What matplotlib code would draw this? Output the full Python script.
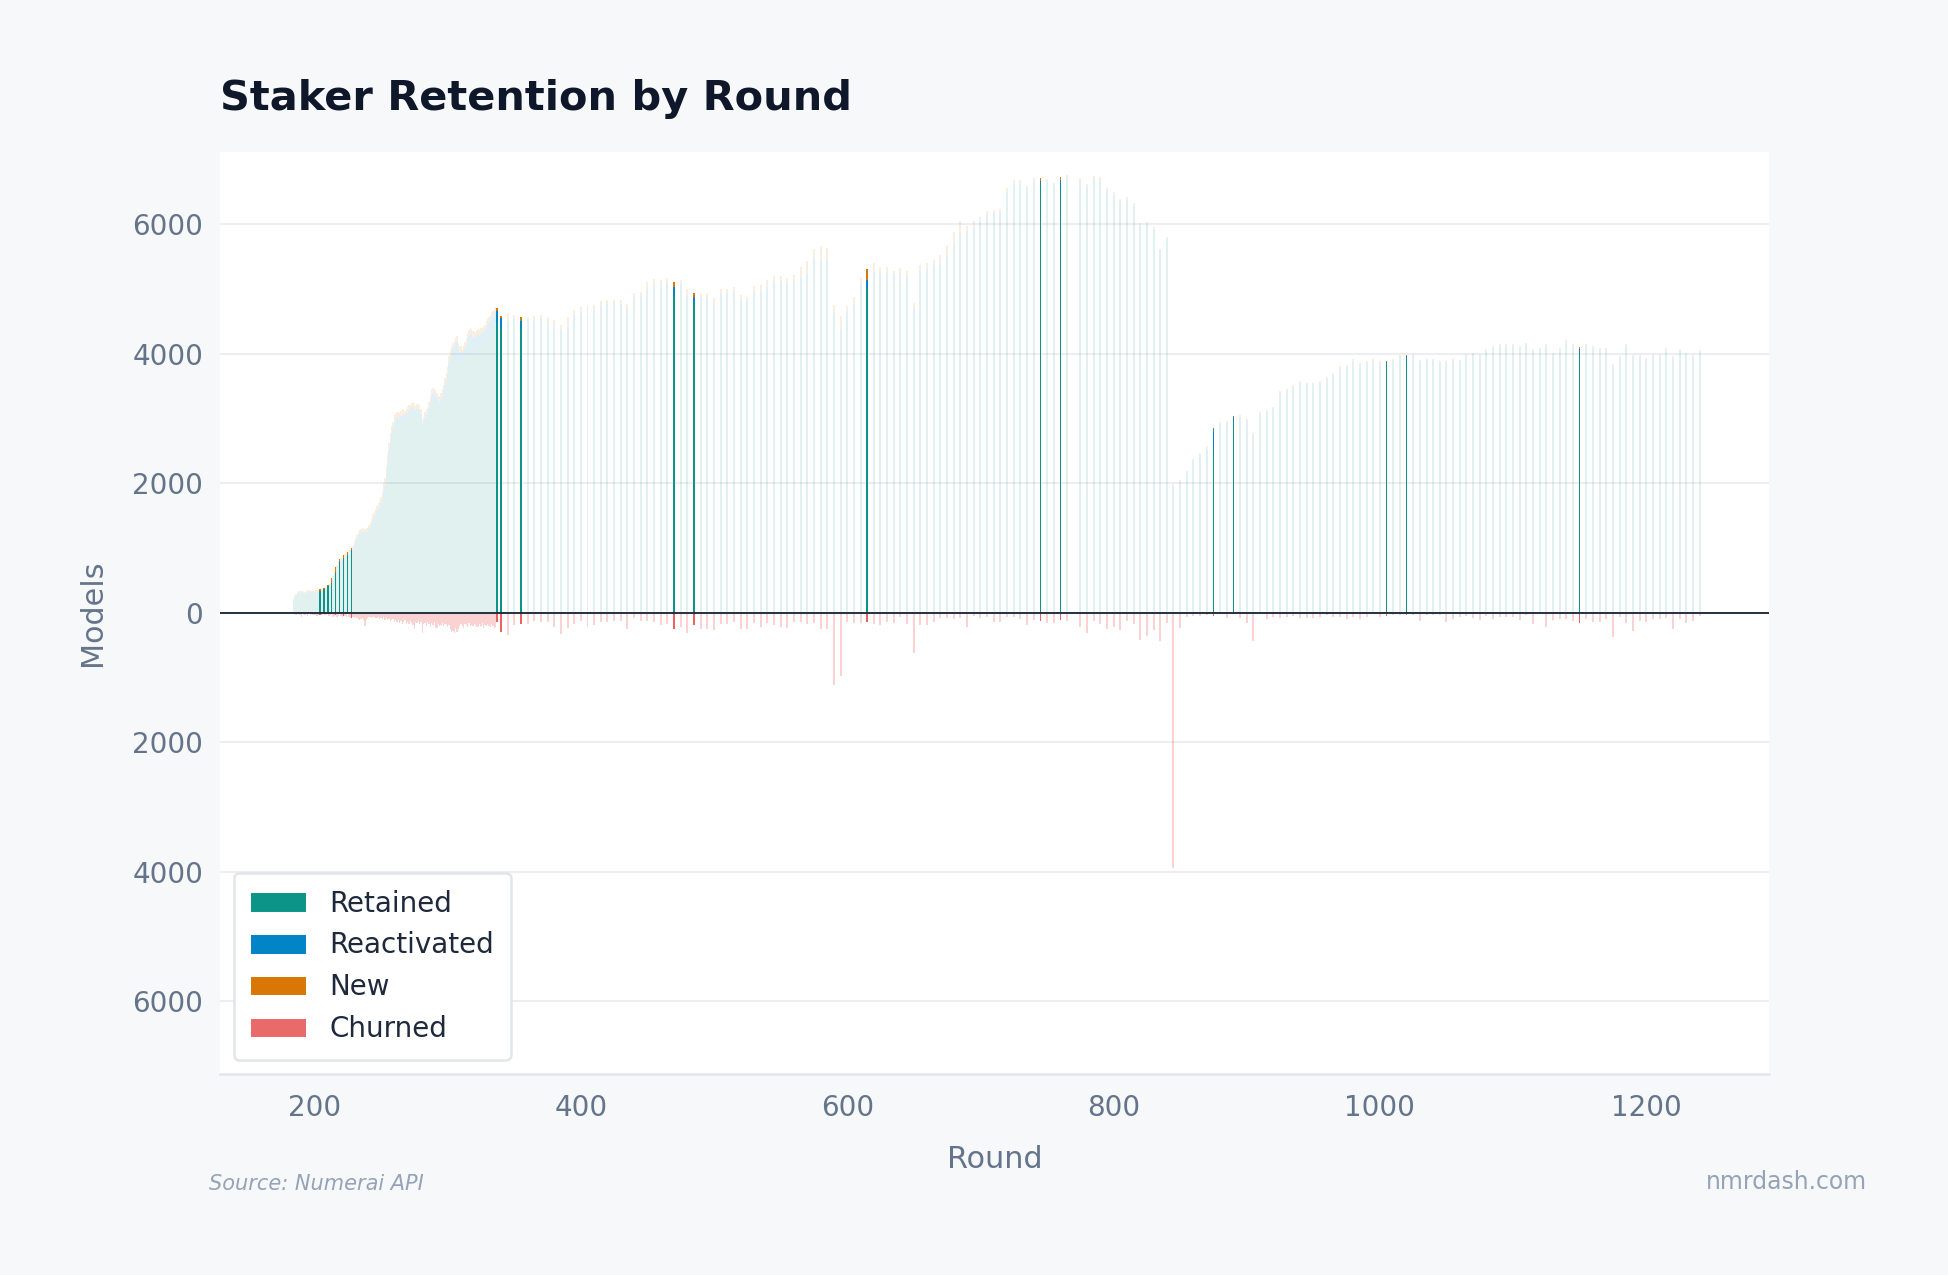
import matplotlib
matplotlib.use("Agg")
import matplotlib.pyplot as plt
from matplotlib.patches import Patch
from matplotlib.ticker import FuncFormatter, MultipleLocator
import numpy as np

# ---------------- data ----------------
dense_rounds = list(range(184, 338))
sparse_rounds = [r for r in range(340, 1245, 5) if r != 770]
rounds = dense_rounds + sparse_rounds

highlight_rounds = [204, 207, 210, 213, 216, 219, 222, 225, 228, 337, 340, 355,
                    470, 485, 615, 745, 760, 875, 890, 1005, 1020, 1150]

# stack top (retained + reactivated + new) per round
total_dense = [
    205, 250, 290, 320, 335, 330, 345, 320, 330, 325, 330, 345, 345, 330, 335, 340, 340, 345, 355, 365,
    369, 375, 380, 385, 395, 410, 425, 445, 480, 528, 560, 640, 708, 730, 790, 830, 850, 880, 897, 900,
    920, 938, 960, 985, 995,
    1030, 1110, 1160, 1200, 1240, 1270, 1290, 1300, 1300, 1290, 1310, 1305,
    1350, 1400, 1450, 1520, 1560, 1600, 1650, 1690, 1720, 1780, 1850, 2000, 2080, 2250, 2450, 2620, 2780, 2880, 2950, 3050,
    3070, 3100, 3080, 3100, 3120, 3140, 3150, 3120, 3150, 3180, 3210, 3200, 3240, 3260, 3200, 3190, 3230, 3220, 3200, 3150,
    2980, 3020, 3100, 3140, 3180, 3260, 3340, 3450, 3470, 3440, 3460, 3400, 3350, 3330, 3400, 3460, 3520, 3620, 3700, 3800,
    3960, 4050, 4100, 4160, 4200, 4250, 4270, 4160, 4110, 4120, 4080, 4120, 4180, 4250, 4320, 4370, 4400, 4380, 4350, 4340,
    4330, 4370, 4390, 4360, 4390, 4400, 4420, 4440, 4500, 4540, 4570, 4600, 4640, 4660, 4700, 4720, 4707,
]
total_sparse = [
    4590, 4631, 4600, 4564, 4574, 4590, 4605, 4574, 4528, 4436,
    4574, 4682, 4728, 4743, 4759, 4820, 4836, 4836, 4836, 4769,
    4933, 4959, 5102, 5154, 5143, 5169, 5102, 5143, 5000, 4933,
    4933, 4933, 4856, 5000, 5000, 5036, 4910,
    4882, 5051, 5067, 5143, 5205, 5205, 5164, 5220, 5333, 5436,
    5615, 5667, 5631, 4759, 4590, 4743, 4882, 5190, 5308, 5395,
    5333, 5333, 5282, 5323, 5272, 4785, 5374, 5395, 5451, 5528,
    5682, 5882, 6051, 5974, 6051, 6110,
    6199, 6221, 6235, 6566, 6676, 6676, 6588, 6713, 6713, 6691, 6640, 6735, 6765,
    6713, 6625, 6750, 6735, 6566, 6493, 6382, 6419, 6324, 6015, 6029, 5956, 5625, 5809,
    1985, 2044, 2191, 2375, 2471, 2574, 2856, 2949, 2964, 3036,
    3051, 2990, 2769, 3102, 3128, 3179, 3420, 3461, 3513, 3574,
    3554, 3554, 3574, 3641, 3703, 3805, 3820, 3913, 3856, 3887,
    3913, 3887, 3887, 3913, 3974, 3984, 4000, 3897, 3923, 3923,
    3882, 3882, 3923, 3910, 3990, 4015, 3990, 4067, 4113, 4143,
    4143, 4154, 4113, 4169, 4067, 4092, 4154, 4015, 4092, 4205,
    4154, 4103, 4154, 4113, 4092, 4092, 3836, 3959, 4143, 3974,
    3974, 3938, 3990, 3990, 4092, 3959, 4077, 4015, 3974, 4051,
]

new_dense = [
    20, 25, 30, 20, 25, 30, 20, 25, 20, 30, 25, 20, 30, 25, 20, 25, 30, 25, 35, 30,
    36, 30, 25, 15, 30, 40, 15, 45, 50, 66, 60, 80, 103, 70, 60, 53, 60, 55, 56, 50, 45, 41, 50, 40, 31,
    50, 60, 55, 50, 45, 60, 50, 45, 55, 50, 60, 50,
    60, 70, 65, 80, 75, 90, 85, 80, 100, 90, 110, 100, 120, 130, 140, 120, 130, 110, 100, 90,
    80, 90, 85, 80, 75, 90, 80, 70, 85, 90, 80, 75, 85, 80, 70, 75, 80, 70, 75, 80,
    70, 80, 90, 85, 95, 100, 90, 80, 85, 75, 80, 70, 75, 90, 100, 110, 120, 100, 110, 120,
    110, 100, 90, 85, 95, 100, 90, 80, 85, 90, 80, 85, 90, 100, 95, 90, 85, 80, 90, 85,
    80, 85, 90, 80, 85, 90, 95, 80, 85, 90, 80, 75, 70, 80, 75, 70, 40,
]
new_sparse = [
    36, 144, 60, 62, 70, 80, 60, 70, 90, 77,
    154, 90, 80, 70, 80, 90, 70, 60, 70, 80,
    72, 90, 118, 100, 92, 80, 77, 67, 110, 51,
    60, 80, 90, 77, 70, 80, 90,
    70, 100, 120, 110, 120, 100, 90, 80, 150, 205,
    154, 230, 185, 144, 230, 100, 130, 120, 170, 110,
    80, 90, 60, 70, 90, 80, 100, 90, 100, 120,
    170, 190, 180, 100, 90, 60,
    50, 45, 60, 70, 55, 50, 45, 60, 51, 50, 45, 59, 55,
    50, 45, 40, 50, 45, 40, 35, 40, 35, 40, 30, 35, 30, 40,
    30, 35, 40, 35, 30, 40, 25, 30, 25, 21,
    30, 25, 35, 30, 25, 30, 35, 30, 25, 30,
    25, 30, 25, 30, 35, 40, 30, 25, 30, 25,
    20, 25, 15, 20, 25, 25, 20, 25, 20, 25,
    20, 25, 20, 25, 30, 25, 20, 25, 30, 25,
    20, 25, 20, 25, 20, 25, 30, 25, 20, 30,
    25, 26, 25, 20, 25, 20, 25, 30, 25, 20,
    25, 30, 25, 20, 25, 30, 25, 20, 25, 30,
]

reactivated_dense = [
    10, 12, 15, 10, 12, 15, 10, 12, 10, 15, 12, 10, 15, 12, 10, 12, 15, 12, 15, 10,
    0, 10, 12, 0, 10, 15, 0, 15, 20, 0, 20, 15, 15, 20, 25, 36, 25, 20, 0, 25, 20, 0, 30, 25, 41,
    30, 35, 40, 30, 35, 40, 35, 30, 40, 35, 30, 35,
    40, 45, 40, 50, 45, 55, 50, 45, 60, 55, 60, 65, 70, 75, 80, 75, 70, 80, 75, 70,
    80, 85, 80, 90, 85, 80, 90, 85, 80, 90, 95, 90, 85, 95, 90, 85, 90, 95, 90, 85,
    90, 95, 100, 95, 100, 105, 100, 110, 105, 100, 110, 105, 100, 110, 115, 120, 115, 120, 125, 130,
    130, 135, 140, 135, 140, 145, 140, 135, 130, 140, 135, 140, 145, 150, 145, 150, 155, 150, 155, 160,
    155, 160, 165, 160, 165, 170, 165, 170, 175, 170, 175, 180, 175, 180, 185, 190, 195,
]
reactivated_sparse = [
    169, 120, 110, 102, 115, 120, 110, 105, 120, 110,
    130, 120, 125, 115, 120, 130, 125, 120, 115, 125,
    130, 125, 135, 130, 125, 130, 128, 120, 125, 87,
    110, 115, 120, 110, 105, 115, 120,
    120, 125, 130, 120, 125, 130, 120, 125, 130, 135,
    130, 125, 130, 120, 110, 125, 130, 120, 123, 125,
    130, 120, 125, 115, 120, 110, 125, 130, 120, 125,
    130, 135, 125, 120, 115, 110,
    100, 95, 90, 85, 80, 75, 80, 70, 59, 75, 80, 147, 70,
    75, 80, 70, 75, 80, 85, 80, 75, 80, 90, 85, 80, 90, 85,
    150, 180, 200, 220, 250, 280, 318, 120, 100, 77,
    90, 85, 80, 75, 70, 75, 70, 65, 70, 65,
    60, 65, 60, 65, 60, 55, 60, 55, 60, 55,
    50, 55, 62, 50, 45, 36, 45, 50, 45, 50,
    45, 50, 45, 50, 55, 50, 45, 50, 55, 50,
    45, 50, 55, 50, 45, 50, 55, 60, 55, 60,
    65, 67, 60, 55, 60, 55, 50, 55, 60, 55,
    50, 55, 50, 55, 60, 55, 50, 55, 50, 55,
]

churned_dense = [
    20, 25, 30, 15, 20, 35, 60, 25, 20, 30, 25, 45, 20, 30, 25, 40, 35, 30, 45, 40,
    41, 30, 35, 15, 40, 30, 15, 50, 35, 15, 60, 45, 41, 70, 50, 26, 55, 60, 51, 45, 70, 26, 60, 80, 77,
    70, 90, 60, 80, 100, 110, 95, 85, 120, 205, 110, 90,
    70, 60, 80, 75, 65, 90, 80, 70, 100, 85, 95, 75, 110, 90, 120, 100, 130, 115, 95, 140,
    120, 150, 110, 160, 130, 180, 140, 120, 165, 150, 170, 135, 155, 190, 256, 145, 160, 130, 175, 150,
    308, 180, 160, 200, 140, 175, 220, 160, 190, 150, 230, 240, 170, 200, 185, 160, 210, 175, 195, 220,
    190, 250, 300, 280, 310, 240, 300, 260, 200, 180, 210, 230, 170, 190, 220, 160, 200, 185, 210, 175,
    190, 220, 200, 180, 210, 160, 230, 190, 200, 175, 210, 220, 180, 200, 230, 215, 144,
]
churned_sparse = [
    292, 344, 190, 180, 170, 128, 138, 144, 215, 323,
    231, 170, 128, 215, 195, 138, 138, 128, 128, 246,
    77, 128, 128, 138, 190, 170, 256, 215, 308, 195,
    246, 246, 272, 170, 180, 144, 256,
    256, 154, 215, 154, 190, 215, 231, 138, 138, 180,
    154, 256, 256, 1118, 985, 138, 164, 164, 144, 169,
    195, 138, 164, 62, 180, 626, 190, 195, 138, 87,
    87, 103, 77, 215, 51, 88,
    74, 140, 140, 74, 74, 103, 184, 110, 125, 154, 154, 110, 125,
    221, 309, 125, 169, 257, 221, 272, 125, 176, 419, 368, 272, 434, 154,
    3950, 235, 74, 51, 51, 29, 51, 10, 77, 26,
    77, 154, 436, 26, 92, 62, 77, 62, 51, 77,
    77, 77, 62, 41, 62, 62, 92, 62, 103, 62,
    26, 62, 51, 41, 31, 31, 31, 128, 41, 31,
    31, 144, 103, 62, 51, 77, 113, 51, 92, 62,
    62, 62, 113, 41, 169, 26, 215, 113, 92, 92,
    128, 154, 92, 144, 144, 92, 369, 62, 154, 282,
    128, 144, 103, 103, 77, 246, 92, 154, 128, 51,
]

total = np.array(total_dense + total_sparse, dtype=float)
new = np.array(new_dense + new_sparse, dtype=float)
reactivated = np.array(reactivated_dense + reactivated_sparse, dtype=float)
churned = np.array(churned_dense + churned_sparse, dtype=float)
retained = total - new - reactivated
x = np.array(rounds, dtype=float)

series_labels = ["Retained", "Reactivated", "New", "Churned"]
c_ret, c_rea, c_new, c_chu = "#0d9488", "#0284c7", "#d97706", "#ef4444"

# ---------------- figure ----------------
plt.rcParams['font.family'] = ['DejaVu Sans']
fig = plt.figure(figsize=(1948 / 150, 1275 / 150), dpi=150, facecolor="#f7f8fa")
ax = fig.add_axes([0.1129, 0.158, 0.908 - 0.1129, 0.881 - 0.158])
ax.set_facecolor("white")

is_hi = np.isin(x, highlight_rounds)
is_dense = x < 338
widths = np.where(is_dense, 1.0, 1.5)
widths = np.where(is_hi, 1.05, widths)

lo = ~is_hi
hi = is_hi
# faint bars
ax.bar(x[lo], retained[lo], width=widths[lo], color=c_ret, alpha=0.12, linewidth=0)
ax.bar(x[lo], reactivated[lo], bottom=retained[lo], width=widths[lo], color=c_rea, alpha=0.12, linewidth=0)
ax.bar(x[lo], new[lo], bottom=(retained + reactivated)[lo], width=widths[lo], color=c_new, alpha=0.12, linewidth=0)
ax.bar(x[lo], -churned[lo], width=widths[lo], color=c_chu, alpha=0.24, linewidth=0)
# highlighted bars
ax.bar(x[hi], retained[hi], width=widths[hi], color=c_ret, linewidth=0, zorder=3)
ax.bar(x[hi], reactivated[hi], bottom=retained[hi], width=widths[hi], color=c_rea, linewidth=0, zorder=3)
ax.bar(x[hi], new[hi], bottom=(retained + reactivated)[hi], width=widths[hi], color=c_new, linewidth=0, zorder=3)
ax.bar(x[hi], -churned[hi], width=widths[hi], color=c_chu, alpha=0.85, linewidth=0, zorder=3)

ax.axhline(0, color="#1e293b", linewidth=0.9, zorder=4)

ax.set_xlim(129, 1292)
ax.set_ylim(-7120, 7120)
ax.yaxis.set_major_locator(MultipleLocator(2000))
ax.yaxis.set_major_formatter(FuncFormatter(lambda v, p: f"{abs(v):.0f}"))
ax.xaxis.set_major_locator(MultipleLocator(200))
ax.grid(axis="y", color="#eceef1", linewidth=1.0, zorder=0)
ax.set_axisbelow(True)
for s in ["top", "right", "left"]:
    ax.spines[s].set_visible(False)
ax.spines["bottom"].set_color("#e2e5ea")
ax.spines["bottom"].set_linewidth(1.2)
ax.tick_params(axis="both", length=0, labelsize=13.3, labelcolor="#64748b")
ax.tick_params(axis="x", pad=10)
ax.tick_params(axis="y", pad=8)
ax.set_xlabel("Round", fontsize=14.5, color="#64748b", labelpad=11)
ax.set_ylabel("Models", fontsize=14.5, color="#64748b", labelpad=12)

fig.text(0.1129, 0.922, "Staker Retention by Round", fontsize=19.9, fontweight="bold",
         color="#0f172a", ha="left", va="center")

handles = [Patch(facecolor=c, edgecolor="white", linewidth=0.5, label=l)
           for c, l in zip([c_ret, c_rea, c_new, "#ea6a6a"], series_labels)]
leg = ax.legend(handles=handles, loc="lower left", fontsize=13.3, frameon=True,
                fancybox=True, borderpad=0.6, labelspacing=0.5, handlelength=2.0,
                handleheight=0.72, handletextpad=0.85, borderaxespad=0.5)
leg.get_frame().set_edgecolor("#e2e5ea")
leg.get_frame().set_linewidth(1.2)
leg.get_frame().set_facecolor("white")
leg.get_frame().set_alpha(1)
for t in leg.get_texts():
    t.set_color("#1e293b")

fig.text(0.1071, 0.0711, "Source: Numerai API", fontsize=10, style="italic",
         color="#94a3b8", ha="left", va="center")
fig.text(0.9585, 0.0731, "nmrdash.com", fontsize=11.3, color="#94a3b8", ha="right", va="center")

fig.savefig("out.png", dpi=150, facecolor=fig.get_facecolor())
